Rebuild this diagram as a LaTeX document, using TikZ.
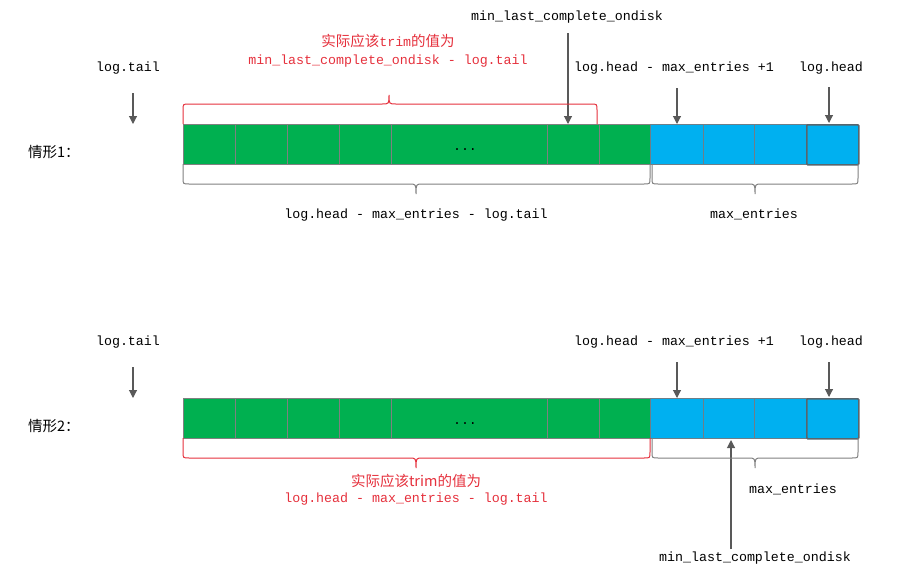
\documentclass[tikz,border=0pt]{standalone}
\usepackage{fontspec}
\setmonofont{Liberation Mono}
\newfontfamily\cjk{Noto Sans CJK SC}
\usetikzlibrary{arrows.meta}
\definecolor{cgreen}{HTML}{00B050}
\definecolor{cblue}{HTML}{00B0F0}
\definecolor{cred}{HTML}{E5303C}
\definecolor{cline}{HTML}{808080}
\definecolor{carrow}{HTML}{595959}
\definecolor{cedge}{HTML}{6E7E88}
\tikzset{
  lbl/.style={inner sep=0pt, anchor=base, font=\fontsize{13.3}{15}\ttfamily},
  redlbl/.style={lbl, text=cred},
  cjklbl/.style={inner sep=0pt, anchor=base west, font=\fontsize{14.5}{16}\cjk},
  gcell/.style={draw=cline, line width=0.8pt, fill=cgreen, inner sep=0pt, anchor=north west, minimum height=40pt},
  bcell/.style={draw=cedge, line width=1.2pt, fill=cblue, inner sep=0pt, anchor=north west, minimum height=40pt},
  hcell/.style={draw=cedge!80!black, line width=1.6pt, fill=cblue, inner sep=0pt, anchor=north west, minimum height=40pt, rounded corners=1pt},
  ptr/.style={draw=carrow, line width=1.1pt, -{Triangle[length=8pt,width=8pt]}},
  gbrace/.style={draw=cline, line width=1pt},
  rbrace/.style={draw=cred, line width=1pt},
}
\begin{document}
\begin{tikzpicture}[x=1pt,y=-1pt]
\useasboundingbox (0,0) rectangle (913,573);

% ===================== Case 1 =====================
\node[gcell, minimum width=52pt] (a1) at (183,124) {};
\node[gcell, minimum width=52pt] (a2) at (235,124) {};
\node[gcell, minimum width=52pt] (a3) at (287,124) {};
\node[gcell, minimum width=52pt] (a4) at (339,124) {};
\node[gcell, minimum width=156pt] (a5) at (391,124) {};
\node[gcell, minimum width=52pt] (a6) at (547,124) {};
\node[gcell, minimum width=51pt] (a7) at (599,124) {};
\node[bcell, minimum width=53pt] (a8) at (650,124) {};
\node[bcell, minimum width=51pt] (a9) at (703,124) {};
\node[bcell, minimum width=52pt] (a10) at (754,124) {};
\node[hcell, minimum width=52pt] (a11) at (806,124) {};
\node[lbl] (dots1) at (465,150) {...};

\node[cjklbl] (case1) at (28,157) {情形1：};
\node[lbl] (tail1) at (128,71) {log.tail};
\node[lbl] (mlc1) at (567,20) {min\_last\_complete\_ondisk};
\node[lbl] (hm1) at (674,71) {log.head - max\_entries +1};
\node[lbl] (head1) at (831,71) {log.head};
\node[redlbl, font=\fontsize{14.5}{16}\cjk] (r1a) at (388,46) {实际应该{\fontsize{13.3}{15}\ttfamily trim}的值为};
\node[redlbl] (r1b) at (388,64) {min\_last\_complete\_ondisk - log.tail};
\node[lbl] (d1) at (416,218) {log.head - max\_entries - log.tail};
\node[lbl] (m1) at (754,218) {max\_entries};

\coordinate (t1s) at (133,93);  \coordinate (t1e) at (133,124);
\coordinate (c1s) at (568,33);  \coordinate (c1e) at (568,124);
\coordinate (h1s) at (677,88);  \coordinate (h1e) at (677,124);
\coordinate (g1s) at (829,87);  \coordinate (g1e) at (829,123);
\draw[ptr] (t1s) -- (t1e);
\draw[ptr] (c1s) -- (c1e);
\draw[ptr] (h1s) -- (h1e);
\draw[ptr] (g1s) -- (g1e);

% red brace above (tip up)
\draw[rbrace] (183,124) -- (183,110) .. controls (183,104) .. (189,104) -- (382,104)
  .. controls (389,104) .. (389,95) .. controls (389,104) .. (396,104) -- (591,104)
  .. controls (597,104) .. (597,110) -- (597,124);
% gray brace below green (tip down)
\draw[gbrace] (183,164) -- (183,178) .. controls (183,184) .. (189,184) -- (409,184)
  .. controls (416,184) .. (416,194) .. controls (416,184) .. (423,184) -- (644,184)
  .. controls (650,184) .. (650,178) -- (650,164);
% gray brace below blue
\draw[gbrace] (652,164) -- (652,178) .. controls (652,184) .. (658,184) -- (748,184)
  .. controls (755,184) .. (755,194) .. controls (755,184) .. (762,184) -- (852,184)
  .. controls (858,184) .. (858,178) -- (858,164);

% ===================== Case 2 =====================
\node[gcell, minimum width=52pt] (b1) at (183,398) {};
\node[gcell, minimum width=52pt] (b2) at (235,398) {};
\node[gcell, minimum width=52pt] (b3) at (287,398) {};
\node[gcell, minimum width=52pt] (b4) at (339,398) {};
\node[gcell, minimum width=156pt] (b5) at (391,398) {};
\node[gcell, minimum width=52pt] (b6) at (547,398) {};
\node[gcell, minimum width=51pt] (b7) at (599,398) {};
\node[bcell, minimum width=53pt] (b8) at (650,398) {};
\node[bcell, minimum width=51pt] (b9) at (703,398) {};
\node[bcell, minimum width=52pt] (b10) at (754,398) {};
\node[hcell, minimum width=52pt] (b11) at (806,398) {};
\node[lbl] (dots2) at (465,424) {...};

\node[cjklbl] (case2) at (28,431) {情形2：};
\node[lbl] (tail2) at (128,345) {log.tail};
\node[lbl] (hm2) at (674,345) {log.head - max\_entries +1};
\node[lbl] (head2) at (831,345) {log.head};
\node[redlbl, font=\fontsize{14.5}{16}\cjk] (r2a) at (416,486) {实际应该trim的值为};
\node[redlbl] (r2b) at (416,502) {log.head - max\_entries - log.tail};
\node[lbl] (m2) at (793,493) {max\_entries};
\node[lbl] (mlc2) at (755,561) {min\_last\_complete\_ondisk};

\coordinate (t2s) at (133,367); \coordinate (t2e) at (133,398);
\coordinate (h2s) at (677,362); \coordinate (h2e) at (677,398);
\coordinate (g2s) at (829,362); \coordinate (g2e) at (829,397);
\coordinate (c2s) at (731,549); \coordinate (c2e) at (731,440);
\draw[ptr] (t2s) -- (t2e);
\draw[ptr] (h2s) -- (h2e);
\draw[ptr] (g2s) -- (g2e);
\draw[ptr] (c2s) -- (c2e);

% red brace below green (tip down)
\draw[rbrace] (183,438) -- (183,452) .. controls (183,458) .. (189,458) -- (409,458)
  .. controls (416,458) .. (416,468) .. controls (416,458) .. (423,458) -- (644,458)
  .. controls (650,458) .. (650,452) -- (650,438);
% gray brace below blue
\draw[gbrace] (652,438) -- (652,452) .. controls (652,458) .. (658,458) -- (748,458)
  .. controls (755,458) .. (755,468) .. controls (755,458) .. (762,458) -- (852,458)
  .. controls (858,458) .. (858,452) -- (858,438);
\end{tikzpicture}
\end{document}
